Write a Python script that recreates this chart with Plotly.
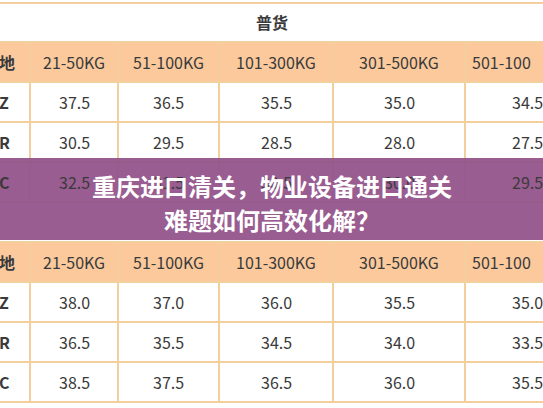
import plotly.graph_objects as go

# table content
section_title = "普货"
corner_label = "地"
weight_bands = ["21-50KG", "51-100KG", "101-300KG", "301-500KG", "501-100"]
row_labels = ["Z", "R", "C"]
table1_values = [
    [37.5, 36.5, 35.5, 35.0, 34.5],
    [30.5, 29.5, 28.5, 28.0, 27.5],
    [32.5, 31.5, 30.5, 30.0, 29.5],
]
table2_values = [
    [38.0, 37.0, 36.0, 35.5, 35.0],
    [36.5, 35.5, 34.5, 34.0, 33.5],
    [38.5, 37.5, 36.5, 36.0, 35.5],
]
banner_lines = ["重庆进口清关，物业设备进口通关", "难题如何高效化解？"]

W, H = 543, 408
col_edges = [0, 30, 118, 219, 333, 465, 560]
row_h = 40
border = "#f2cf9c"
head_fill = "#fbc99c"
txt = "#3a3a3a"
font = "Noto Sans CJK SC"

fig = go.Figure()
shapes, annos = [], []


def draw_table(top, values, show_title):
    if show_title:
        annos.append(dict(x=W / 2, y=top - 20, text=section_title, showarrow=False,
                          font=dict(size=16, color=txt, weight=700)))
    rows = [[corner_label] + weight_bands] + [
        [lab] + [f"{v:.1f}" for v in vals] for lab, vals in zip(row_labels, values)]
    for r, row in enumerate(rows):
        y0 = top + r * row_h
        if r == 0:
            shapes.append(dict(type="rect", x0=0, x1=W, y0=y0, y1=y0 + row_h,
                               fillcolor=head_fill, line=dict(width=0), layer="below"))
        shapes.append(dict(type="line", x0=0, x1=W, y0=y0, y1=y0,
                           line=dict(color=border, width=2)))
        for c, cell in enumerate(row):
            x0, x1 = col_edges[c], col_edges[c + 1]
            a = dict(x=(x0 + x1) / 2, xanchor="center")
            if c == 0:
                a = dict(x=0, xanchor="left", xshift=-3)
            elif c == len(row) - 1:
                a = dict(x=x0 + 5, xanchor="left") if r == 0 else dict(x=W, xanchor="right", xshift=2)
            annos.append(dict(a, y=y0 + row_h / 2, text=cell, showarrow=False,
                              font=dict(size=16, color=txt, weight=700 if c == 0 else 400)))
    bottom = top + len(rows) * row_h
    shapes.append(dict(type="line", x0=0, x1=W, y0=bottom, y1=bottom,
                       line=dict(color=border, width=2)))
    for x in col_edges[1:-1]:
        shapes.append(dict(type="line", x0=x, x1=x, y0=top, y1=bottom,
                           line=dict(color=border, width=2)))


shapes.append(dict(type="line", x0=0, x1=W, y0=3, y1=3, line=dict(color=border, width=2)))
draw_table(42, table1_values, True)
draw_table(242, table2_values, False)

shapes.append(dict(type="rect", x0=0, x1=W, y0=158, y1=240, fillcolor="#94548b",
                   opacity=0.95, line=dict(width=0), layer="above"))
for i, line in enumerate(banner_lines):
    annos.append(dict(x=W / 2, y=185 + i * 34, text=line, showarrow=False,
                      font=dict(size=24, color="white", weight=700)))

fig.add_trace(go.Scatter(x=[0, W], y=[0, H], mode="markers", marker=dict(opacity=0),
                         hoverinfo="skip", showlegend=False))
fig.update_layout(
    width=W, height=H, margin=dict(l=0, r=0, t=0, b=0),
    plot_bgcolor="white", paper_bgcolor="white",
    font=dict(family=font),
    xaxis=dict(range=[0, W], visible=False, fixedrange=True),
    yaxis=dict(range=[H, 0], visible=False, fixedrange=True),
    shapes=shapes, annotations=annos,
)
fig.write_html("out.html", config={"displayModeBar": False},
               post_script="document.body.style.margin='0';")
